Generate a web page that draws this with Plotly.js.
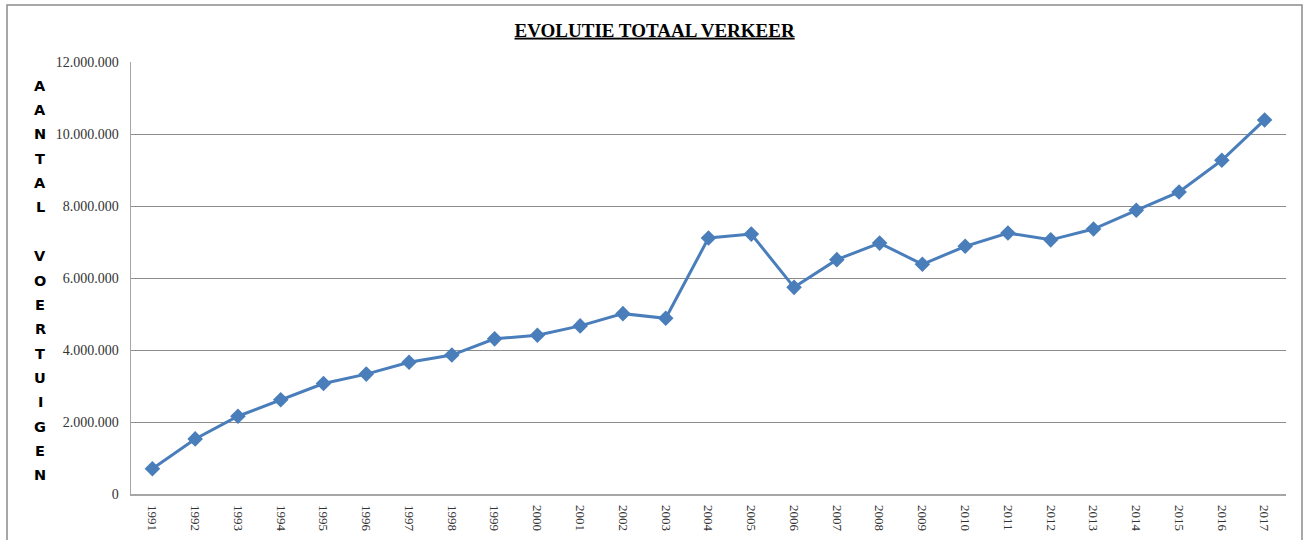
<!DOCTYPE html>
<html>
<head>
<meta charset="utf-8">
<script src="https://cdn.plot.ly/plotly-3.0.1.min.js"></script>
<style>html,body{margin:0;padding:0;background:#fff;}#chart{width:1304px;height:540px;}</style>
</head>
<body>
<div id="chart"></div>
<script>
const years = ["1991","1992","1993","1994","1995","1996","1997","1998","1999","2000","2001","2002","2003","2004","2005","2006","2007","2008","2009","2010","2011","2012","2013","2014","2015","2016","2017"];
const totaalVerkeer = [700000,1530000,2160000,2620000,3070000,3330000,3660000,3860000,4310000,4410000,4670000,5010000,4880000,7110000,7220000,5740000,6510000,6970000,6380000,6880000,7250000,7060000,7360000,7880000,8390000,9270000,10390000];
const chartTitle = "EVOLUTIE TOTAAL VERKEER";
const yTitleLetters = "AANTAL VOERTUIGEN".split("");
const yTicks = [0,2000000,4000000,6000000,8000000,10000000,12000000];

const W = 1304, H = 540;
const mL = 131, mR = 18, mT = 62, mB = 46;
const plotW = W - mL - mR, plotH = H - mT - mB;

const trace = {
  x: years, y: totaalVerkeer, type: "scatter", mode: "lines+markers",
  line: {color: "#4a7ebb", width: 3},
  marker: {symbol: "diamond", size: 12, color: "#4a7ebb"},
  hoverinfo: "x+y"
};

const annotations = [];
const firstY = 85.7, stepY = 24.35, letterX = 40;
yTitleLetters.forEach((ch, i) => {
  if (ch === " ") return;
  annotations.push({
    text: ch, showarrow: false,
    xref: "paper", yref: "paper",
    x: (letterX - mL) / plotW,
    y: (H - mB - (firstY + i * stepY)) / plotH,
    xanchor: "center", yanchor: "middle",
    font: {family: "DejaVu Sans, sans-serif", size: 14.5, color: "#000", weight: 700}
  });
});

const layout = {
  width: W, height: H,
  margin: {l: mL, r: mR, t: mT, b: mB, pad: 0},
  paper_bgcolor: "#fff", plot_bgcolor: "#fff",
  separators: ",.",
  showlegend: false,
  title: {
    text: "<u>" + chartTitle + "</u>",
    font: {family: "Liberation Serif, Times New Roman, serif", size: 19, color: "#000", weight: 700},
    xref: "container", yref: "container", x: 0.502, y: 1 - 30/540,
    xanchor: "center", yanchor: "middle"
  },
  xaxis: {
    type: "category",
    tickangle: 90,
    tickfont: {family: "Liberation Serif, Times New Roman, serif", size: 13, color: "#333"},
    showgrid: false, zeroline: false,
    showline: true, linecolor: "#a6a6a6", linewidth: 1.5,
    ticks: "outside", ticklen: 7, tickcolor: "rgba(0,0,0,0)",
    range: [-0.5, years.length - 0.5],
    automargin: false
  },
  yaxis: {
    range: [0, 12000000],
    tickvals: yTicks,
    tickformat: ",d",
    tickfont: {family: "Liberation Serif, Times New Roman, serif", size: 14, color: "#333"},
    showgrid: true, gridcolor: "#8c8c8c", gridwidth: 1,
    zeroline: false,
    showline: true, linecolor: "#a6a6a6", linewidth: 1.5,
    ticks: "outside", ticklen: 8, tickcolor: "rgba(0,0,0,0)",
    automargin: false
  },
  annotations: annotations,
  shapes: [{
    type: "rect", xref: "paper", yref: "paper",
    x0: (7 - mL) / plotW, x1: (1302 - mL) / plotW,
    y0: (H - mB - 560) / plotH, y1: (H - mB - 5) / plotH,
    line: {color: "#8c8c8c", width: 1.5}, fillcolor: "rgba(0,0,0,0)", layer: "below"
  }]
};

Plotly.newPlot("chart", [trace], layout, {displayModeBar: false, staticPlot: true});
</script>
</body>
</html>
